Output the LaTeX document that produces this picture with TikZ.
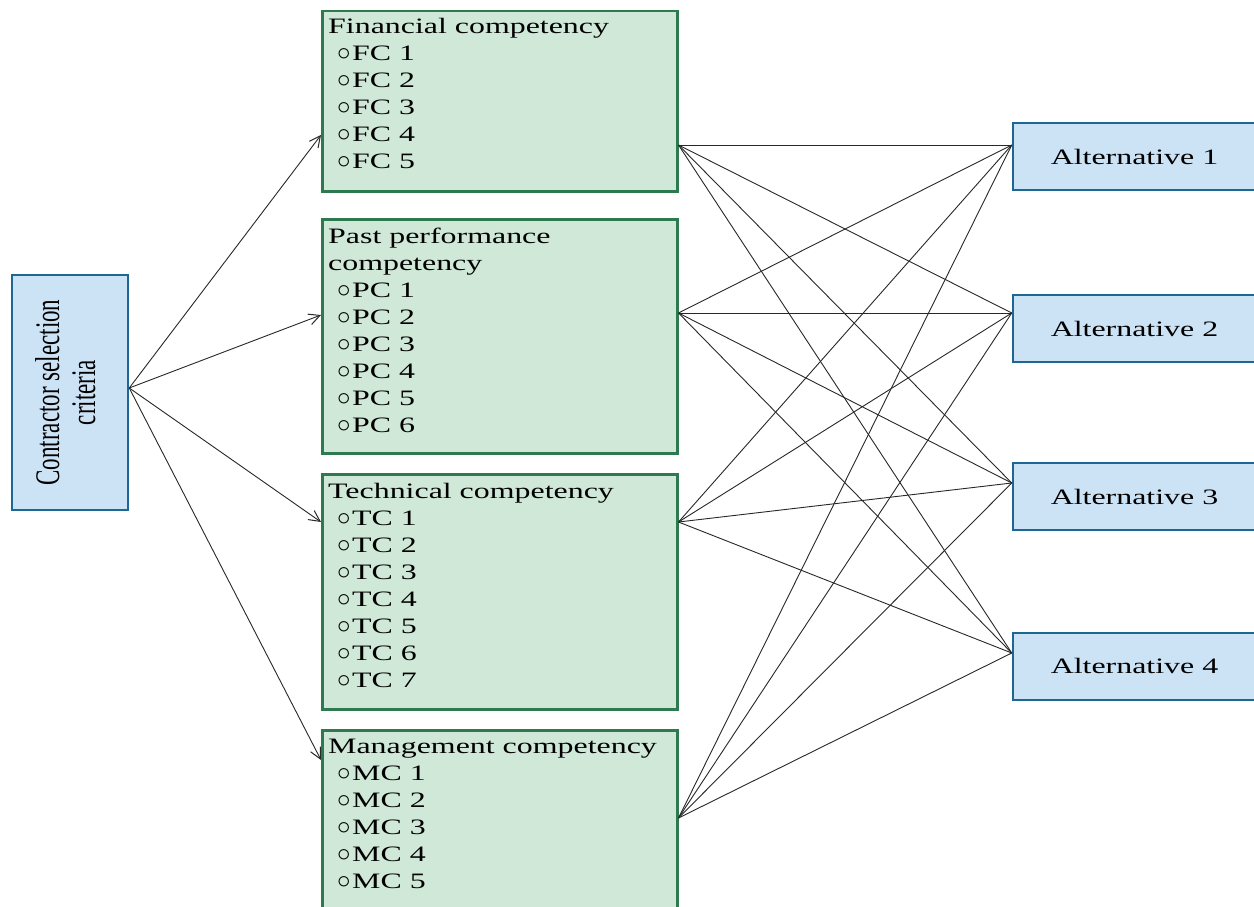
\documentclass[tikz,border=0pt]{standalone}
\usepackage{fontspec}
\setmainfont{Liberation Serif}
\newfontfamily\widefont[FakeStretch=1.45]{Liberation Serif}
\usetikzlibrary{arrows.meta,calc}

\definecolor{greenfill}{RGB}{208,232,216}
\definecolor{greenline}{RGB}{46,122,80}
\definecolor{bluefill}{RGB}{204,226,245}
\definecolor{blueline}{RGB}{28,104,146}
\definecolor{linkgray}{RGB}{40,40,40}

% bullet item inside a criterion list
\newcommand\bul[1]{\hspace*{9pt}\makebox[15pt][l]{\scalebox{1.3}{$\circ$}}#1}

\begin{document}
\begin{tikzpicture}[x=1pt,y=-1pt,
  critbox/.style={draw=greenline, fill=greenfill, line width=2.5pt,
    anchor=north west, inner sep=0pt, minimum width=355pt},
  listtext/.style={anchor=base west, inner sep=0pt,
    font=\widefont\fontsize{22}{27}\selectfont},
  altbox/.style={draw=blueline, fill=bluefill, line width=2.5pt,
    inner sep=0pt, minimum width=243pt, minimum height=67pt,
    font=\widefont\fontsize{22}{27}\selectfont},
  rootbox/.style={draw=blueline, fill=bluefill, line width=2.5pt,
    inner sep=0pt, minimum width=116pt, minimum height=235pt},
  link/.style={draw=linkgray, line width=0.9pt},
  feed/.style={link, -{Straight Barb[length=11pt,width=11pt,line width=1pt]}}
]
\clip (0,0) rectangle (1254,907);
\fill[white] (0,0) rectangle (1254,907);

% root criterion
\node[rootbox] (csc) at (70,392.5) {};
\node[rotate=90, inner sep=0pt, font=\fontsize{23}{24}\selectfont] (csc-text) at (csc.center)
  {\scalebox{1}[1.5]{\begin{tabular}{@{}c@{}}Contractor selection\\criteria\end{tabular}}};

% criterion groups
\node[critbox, minimum height=180pt] (fc) at (321,10) {};
\node[critbox, minimum height=234pt] (pc) at (321,218) {};
\node[critbox, minimum height=235pt] (tc) at (321,473) {};
\node[critbox, minimum height=186pt] (mc) at (321,729) {};

\node[listtext] (fc-text) at ($(fc.north west)+(7,24)$)
  {\begin{tabular}[t]{@{}l@{}}Financial competency\\ \bul{FC 1}\\ \bul{FC 2}\\ \bul{FC 3}\\ \bul{FC 4}\\ \bul{FC 5}\end{tabular}};
\node[listtext] (pc-text) at ($(pc.north west)+(7,25)$)
  {\begin{tabular}[t]{@{}l@{}}Past performance\\competency\\ \bul{PC 1}\\ \bul{PC 2}\\ \bul{PC 3}\\ \bul{PC 4}\\ \bul{PC 5}\\ \bul{PC 6}\end{tabular}};
\node[listtext] (tc-text) at ($(tc.north west)+(7,25)$)
  {\begin{tabular}[t]{@{}l@{}}Technical competency\\ \bul{TC 1}\\ \bul{TC 2}\\ \bul{TC 3}\\ \bul{TC 4}\\ \bul{TC 5}\\ \bul{TC 6}\\ \bul{TC 7}\end{tabular}};
\node[listtext] (mc-text) at ($(mc.north west)+(7,24)$)
  {\begin{tabular}[t]{@{}l@{}}Management competency\\ \bul{MC 1}\\ \bul{MC 2}\\ \bul{MC 3}\\ \bul{MC 4}\\ \bul{MC 5}\end{tabular}};

% alternatives
\node[altbox] (a1) at (1134.5,156.5) {Alternative 1};
\node[altbox] (a2) at (1134.5,328.5) {Alternative 2};
\node[altbox] (a3) at (1134.5,496.7) {Alternative 3};
\node[altbox] (a4) at (1134.5,666.4) {Alternative 4};

% ports
\coordinate (csc-out) at (csc.east |- 0,388);
\coordinate (fc-in) at (fc.west |- 0,135);
\coordinate (pc-in) at (pc.west |- 0,315);
\coordinate (tc-in) at (tc.west |- 0,522);
\coordinate (mc-in) at (mc.west |- 0,760);
\coordinate (fc-out) at (fc.east |- 0,145);
\coordinate (pc-out) at (pc.east |- 0,313);
\coordinate (tc-out) at (tc.east |- 0,522);
\coordinate (mc-out) at (mc.east |- 0,818);
\coordinate (a1-in) at (a1.west |- 0,145);
\coordinate (a2-in) at (a2.west |- 0,313);
\coordinate (a3-in) at (a3.west |- 0,483);
\coordinate (a4-in) at (a4.west |- 0,653);

% root to groups
\foreach \g in {fc,pc,tc,mc}
  \draw[feed] (csc-out) -- (\g-in);

% every group to every alternative
\foreach \g in {fc,pc,tc,mc}
  \foreach \a in {a1,a2,a3,a4}
    \draw[link] (\g-out) -- (\a-in);
\end{tikzpicture}
\end{document}
